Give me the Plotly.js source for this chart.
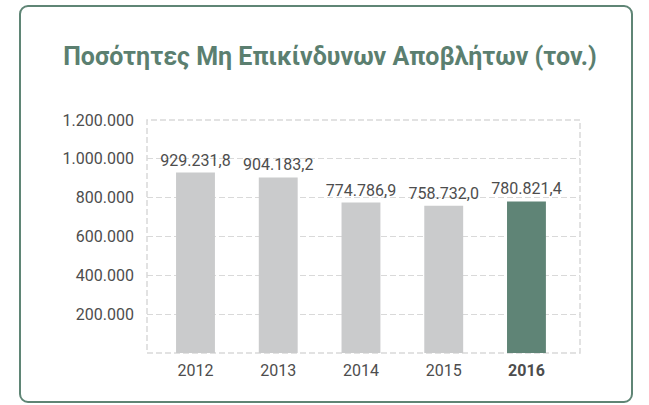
<!DOCTYPE html>
<html>
<head>
<meta charset="utf-8">
<script src="https://cdn.plot.ly/plotly-3.0.1.min.js"></script>
<style>
  body { margin: 0; background: #fff; }
  #frame {
    position: absolute; left: 19px; top: 5px; width: 614px; height: 398px;
    border: 2.5px solid #5f8575; border-radius: 9px; box-sizing: border-box;
  }
  #graph { position: absolute; left: 0; top: 0; width: 649px; height: 405px; }
</style>
</head>
<body>
<div id="frame"></div>
<div id="graph"></div>
<script>
var years = ['2012', '2013', '2014', '2015', '2016'];
var tonnes = [929231.8, 904183.2, 774786.9, 758732.0, 780821.4];
var yearLabels = ['2012', '2013', '2014', '2015', '<b>2016</b>'];
var yTicks = [200000, 400000, 600000, 800000, 1000000, 1200000];

var grey = '#cacbcc';
var green = '#5f8476';
var colors = years.map(function (y, i) { return i == years.length - 1 ? green : grey; });

var bars = {
    x: years,
    y: tonnes,
    type: 'bar',
    marker: { color: colors },
    texttemplate: '%{y:,.1f}',
    textposition: 'outside',
    constraintext: 'none',
    cliponaxis: false,
    textfont: { family: 'Roboto', size: 16, color: '#4d4d4d' },
    hoverinfo: 'none'
};

var layout = {
    width: 649,
    height: 405,
    paper_bgcolor: 'rgba(0,0,0,0)',
    plot_bgcolor: 'rgba(0,0,0,0)',
    separators: ',.',
    margin: { l: 147, r: 69, t: 120, b: 52 },
    bargap: 0.53,
    showlegend: false,
    font: { family: 'Roboto', color: '#4d4d4d' },
    title: {
        text: '<b>Ποσότητες Μη Επικίνδυνων Αποβλήτων (τον.)</b>',
        font: { family: 'Roboto', size: 25, color: '#5b7f70' },
        x: 330 / 649, xanchor: 'center', xref: 'container',
        y: 1 - 56 / 405, yanchor: 'middle', yref: 'container'
    },
    xaxis: {
        type: 'category',
        range: [-0.586, 4.647],
        tickvals: years,
        ticktext: yearLabels,
        tickfont: { size: 16, color: '#4d4d4d' },
        showgrid: false,
        zeroline: false,
        ticks: '',
        ticklabelstandoff: 6
    },
    yaxis: {
        range: [0, 1200000],
        tickvals: yTicks,
        tickformat: ',d',
        tickfont: { size: 16, color: '#4d4d4d' },
        gridcolor: '#d9d9d9',
        griddash: '6px,3px',
        gridwidth: 1.3,
        zeroline: false,
        ticklabelstandoff: 12
    },
    shapes: [{
        type: 'rect', xref: 'paper', yref: 'paper',
        x0: 0, x1: 1, y0: 0, y1: 1,
        line: { color: '#d9d9d9', width: 1.5, dash: '6px,3px' },
        layer: 'below'
    }]
};

Plotly.newPlot('graph', [bars], layout, { displayModeBar: false, staticPlot: true });
</script>
</body>
</html>
